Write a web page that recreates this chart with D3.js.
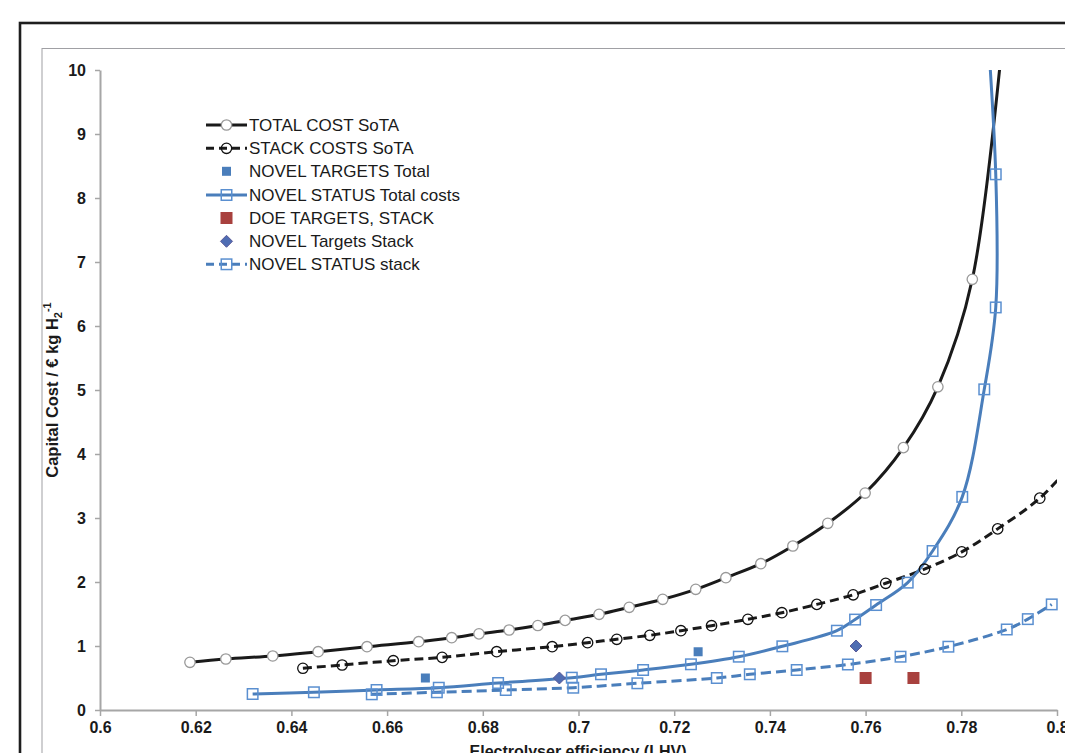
<!DOCTYPE html>
<html>
<head>
<meta charset="utf-8">
<script src="https://cdn.jsdelivr.net/npm/d3@7"></script>
<style>
  body { margin: 0; background: #fff; }
  svg { display: block; font-family: "Liberation Sans", Arial, sans-serif; }
</style>
</head>
<body>
<div id="chart"></div>
<script>
// ---- data ----
const totalSotaX = [0.6188, 0.6263, 0.6361, 0.6456, 0.6558, 0.6666, 0.6735, 0.6792, 0.6855, 0.6915, 0.6972, 0.7043,
  0.7106, 0.7176, 0.7245, 0.7308, 0.7381, 0.7448, 0.7521, 0.7599, 0.7679, 0.7751, 0.7823, 0.7905];
const totalSotaY = [0.745, 0.797, 0.844, 0.911, 0.989, 1.067, 1.13, 1.19, 1.25, 1.32, 1.40, 1.495,
  1.605, 1.73, 1.886, 2.067, 2.286, 2.5625, 2.917, 3.39, 4.10, 5.05, 6.73, 12.0];

const stackSotaX = [0.6424, 0.6506, 0.6613, 0.6715, 0.6829, 0.6945, 0.7019, 0.7080, 0.7149, 0.7214, 0.7278,
  0.7354, 0.7425, 0.7498, 0.7574, 0.7642, 0.7723, 0.7801, 0.7876, 0.7964, 0.805];
const stackSotaY = [0.652, 0.703, 0.770, 0.823, 0.911, 0.989, 1.052, 1.105, 1.167, 1.239, 1.317,
  1.417, 1.52, 1.65, 1.80, 1.98, 2.20, 2.47, 2.83, 3.31, 4.0];

const novelTargetsTotalX = [0.668, 0.725];
const novelTargetsTotalY = [0.5, 0.91];

const novelStatusTotalX = [0.6319, 0.6447, 0.6578, 0.6708, 0.6832, 0.6986, 0.7047, 0.7135, 0.7235, 0.7335, 0.7426,
  0.7540, 0.7578, 0.7622, 0.7688, 0.7740, 0.7802, 0.7848, 0.7872, 0.7872, 0.7842];
const novelStatusTotalY = [0.25, 0.277, 0.3125, 0.348, 0.422, 0.505, 0.558, 0.625, 0.714, 0.833, 0.995,
  1.239, 1.413, 1.64, 1.99, 2.484, 3.33, 5.01, 6.29, 8.37, 12.0];

const doeTargetsX = [0.76, 0.77];
const doeTargetsY = [0.5, 0.5];

const novelTargetsStackX = [0.696, 0.758];
const novelTargetsStackY = [0.5, 1.0];

const novelStatusStackX = [0.6568, 0.6704, 0.6848, 0.6989, 0.7123, 0.7289, 0.7358, 0.7456, 0.7563, 0.7673,
  0.7773, 0.7895, 0.7939, 0.7989];
const novelStatusStackY = [0.245, 0.277, 0.3125, 0.348, 0.417, 0.50, 0.558, 0.625, 0.711, 0.833,
  0.989, 1.258, 1.42, 1.65];

const xTicks = [0.6, 0.62, 0.64, 0.66, 0.68, 0.7, 0.72, 0.74, 0.76, 0.78, 0.8];
const xTickLabels = ['0.6', '0.62', '0.64', '0.66', '0.68', '0.7', '0.72', '0.74', '0.76', '0.78', '0.8'];
const yTicks = [0, 1, 2, 3, 4, 5, 6, 7, 8, 9, 10];

const seriesNames = ['TOTAL COST SoTA', 'STACK COSTS SoTA', 'NOVEL TARGETS Total', 'NOVEL STATUS Total costs',
  'DOE TARGETS, STACK', 'NOVEL Targets Stack', 'NOVEL STATUS stack'];

// ---- layout ----
const W = 1065, H = 753;
const plot = { left: 100, right: 1057, top: 70, bottom: 710 };
const BLUE = '#4A7EBB';

const x = d3.scaleLinear().domain([0.6, 0.8]).range([plot.left, plot.right]);
const y = d3.scaleLinear().domain([0, 10]).range([plot.bottom, plot.top]);

const svg = d3.select('#chart').append('svg').attr('width', W).attr('height', H);

// frames (chart area continues past the right / bottom edges of the picture)
svg.append('rect').attr('x', 20).attr('y', 23).attr('width', 1200).attr('height', 900)
  .attr('fill', 'none').attr('stroke', '#1e1e1e').attr('stroke-width', 2.6);
svg.append('rect').attr('x', 42).attr('y', 48.5).attr('width', 1200).attr('height', 900)
  .attr('fill', 'none').attr('stroke', '#a0a0a4').attr('stroke-width', 1);

svg.append('clipPath').attr('id', 'plotClip').append('rect')
  .attr('x', plot.left).attr('y', plot.top)
  .attr('width', plot.right - plot.left).attr('height', plot.bottom - plot.top);

// axes
const xAxis = svg.append('g').attr('transform', `translate(0,${plot.bottom})`)
  .call(d3.axisBottom(x).tickValues(xTicks).tickFormat((d, i) => xTickLabels[i]).tickSizeInner(6).tickSizeOuter(0).tickPadding(6));
const yAxis = svg.append('g').attr('transform', `translate(${plot.left},0)`)
  .call(d3.axisLeft(y).tickValues(yTicks).tickSizeInner(5).tickSizeOuter(0).tickPadding(9));
[xAxis, yAxis].forEach(g => {
  g.select('.domain').attr('stroke', '#a6a6a6').attr('stroke-width', 2);
  g.selectAll('.tick line').attr('stroke', '#a6a6a6').attr('stroke-width', 1.5);
  g.selectAll('.tick text').attr('fill', '#1a1a1a').attr('font-size', 16).attr('font-weight', 'bold')
    .attr('font-family', '"Liberation Sans", Arial, sans-serif');
});

// axis titles
svg.append('text').attr('x', 578).attr('y', 757).attr('text-anchor', 'middle')
  .attr('font-size', 16).attr('font-weight', 'bold').attr('fill', '#1a1a1a')
  .text('Electrolyser efficiency (LHV)');

const yTitle = svg.append('text').attr('transform', 'translate(58,390) rotate(-90)')
  .attr('text-anchor', 'middle').attr('font-size', 16.5).attr('font-weight', 'bold').attr('fill', '#1a1a1a');
yTitle.append('tspan').text('Capital Cost /  € kg H');
yTitle.append('tspan').attr('font-size', 11).attr('dy', 4).text('2');
yTitle.append('tspan').attr('font-size', 11).attr('dy', -11).text('-1');

// ---- series ----
const toPts = (xs, ys) => xs.map((v, i) => [v, ys[i]]);
const inView = p => p[0] >= 0.6 && p[0] <= 0.8 && p[1] >= 0 && p[1] <= 10;
const line = d3.line().x(d => x(d[0])).y(d => y(d[1])).curve(d3.curveCatmullRom.alpha(0.5));

const series = [
  { pts: toPts(totalSotaX, totalSotaY), line: { stroke: '#1a1a1a', dash: null }, marker: 'circle',
    mstroke: '#999', mfill: '#fff', size: 5.2 },
  { pts: toPts(stackSotaX, stackSotaY), line: { stroke: '#1a1a1a', dash: '9,5' }, marker: 'circle',
    mstroke: '#111', mfill: 'none', size: 5.2 },
  { pts: toPts(novelTargetsTotalX, novelTargetsTotalY), line: null, marker: 'square',
    mstroke: 'none', mfill: BLUE, size: 9 },
  { pts: toPts(novelStatusTotalX, novelStatusTotalY), line: { stroke: BLUE, dash: null }, marker: 'square',
    mstroke: '#5a8fd0', mfill: 'none', size: 10.5 },
  { pts: toPts(doeTargetsX, doeTargetsY), line: null, marker: 'square',
    mstroke: 'none', mfill: '#A8413E', size: 12 },
  { pts: toPts(novelTargetsStackX, novelTargetsStackY), line: null, marker: 'diamond',
    mstroke: '#5a5a98', mfill: '#4F6DB3', size: 12 },
  { pts: toPts(novelStatusStackX, novelStatusStackY), line: { stroke: BLUE, dash: '10,5' }, marker: 'square',
    mstroke: '#5a8fd0', mfill: 'none', size: 10.5 },
];

function drawMarker(g, s, cx, cy) {
  if (s.marker === 'circle') {
    g.append('circle').attr('cx', cx).attr('cy', cy).attr('r', s.size)
      .attr('fill', s.mfill).attr('stroke', s.mstroke).attr('stroke-width', 1.3);
  } else if (s.marker === 'square') {
    g.append('rect').attr('x', cx - s.size / 2).attr('y', cy - s.size / 2)
      .attr('width', s.size).attr('height', s.size)
      .attr('fill', s.mfill).attr('stroke', s.mstroke).attr('stroke-width', 1.5);
  } else {
    const r = s.size / 2;
    g.append('path').attr('d', `M${cx},${cy - r}L${cx + r},${cy}L${cx},${cy + r}L${cx - r},${cy}Z`)
      .attr('fill', s.mfill).attr('stroke', s.mstroke).attr('stroke-width', 1);
  }
}

const linesG = svg.append('g').attr('clip-path', 'url(#plotClip)');
const marksG = svg.append('g');
series.forEach(s => {
  if (s.line) {
    linesG.append('path').datum(s.pts).attr('d', line)
      .attr('fill', 'none').attr('stroke', s.line.stroke).attr('stroke-width', 3)
      .attr('stroke-dasharray', s.line.dash);
  }
});
series.forEach(s => {
  s.pts.filter(inView).forEach(p => drawMarker(marksG, s, x(p[0]), y(p[1])));
});

// ---- legend ----
const legend = svg.append('g');
const legendRows = [125, 148.3, 171.3, 195, 218, 241.3, 264.3];
series.forEach((s, i) => {
  const ly = legendRows[i];
  if (s.line) {
    legend.append('line').attr('x1', 206).attr('x2', 247).attr('y1', ly).attr('y2', ly)
      .attr('stroke', s.line.stroke).attr('stroke-width', 3)
      .attr('stroke-dasharray', s.line.dash ? '8,5' : null);
  }
  drawMarker(legend, s, 226.5, ly);
  legend.append('text').attr('x', 249).attr('y', ly).attr('dy', '0.36em')
    .attr('font-size', 17).attr('fill', '#1a1a1a').text(seriesNames[i]);
});
</script>
</body>
</html>
